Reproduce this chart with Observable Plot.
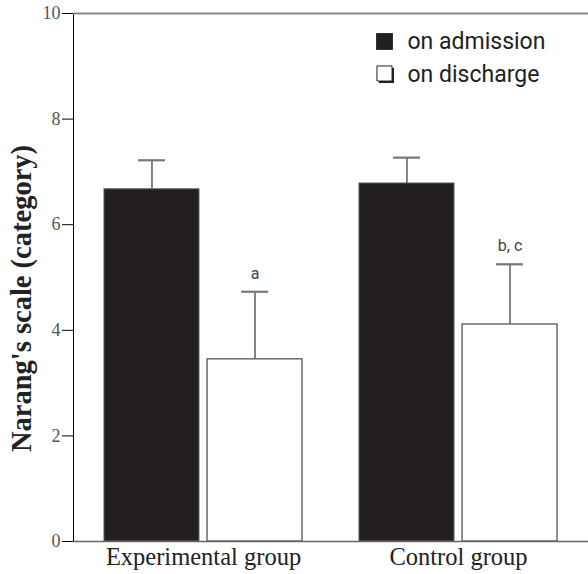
<!DOCTYPE html>
<html>
<head>
<meta charset="utf-8">
<script src="https://cdn.jsdelivr.net/npm/d3@7"></script>
<script src="https://cdn.jsdelivr.net/npm/@observablehq/plot@0.6"></script>
<style>
  html, body { margin: 0; padding: 0; background: #fff; }
  #chart svg { display: block; }
  #chart g[aria-label^="x-axis"] text { font-family: "Liberation Serif", "Times New Roman", serif; font-size: 24.5px; fill: #222; }
  #chart g[aria-label^="y-axis"] text { font-family: "Liberation Serif", "Times New Roman", serif; font-size: 18px; fill: #555; }
</style>
</head>
<body>
<div id="chart"></div>
<script>
// ---- data ----
const groups = ["Experimental group", "Control group"];
const admissionMean = [6.67, 6.78];
const admissionSD = [0.55, 0.49];
const dischargeMean = [3.45, 4.11];
const dischargeSD = [1.28, 1.14];
const sigLabels = ["a", "b, c"];
const yTicks = [0, 2, 4, 6, 8, 10];
const legendLabels = ["on admission", "on discharge"];
const yLabel = "Narang's scale (category)";

const admission = groups.map((g, i) => ({group: g, mean: admissionMean[i], top: admissionMean[i] + admissionSD[i]}));
const discharge = groups.map((g, i) => ({group: g, mean: dischargeMean[i], top: dischargeMean[i] + dischargeSD[i], sig: sigLabels[i]}));

// ---- layout (styles) ----
const W = 588, H = 574;
const mL = 73, mR = 0, mT = 13, mB = 33;
const pInner = 0.225, pOuter = 0.12;
const step = (W - mL - mR) / (groups.length - pInner + 2 * pOuter);
const bw = step * (1 - pInner);
const gap = 8;
const barW = (bw - gap) / 2;
const capW = 27;
const off = bw / 2 - barW / 2; // offset of each bar centre from band centre
const capIn = barW / 2 - capW / 2;

const lineColor = "#666";
const sans = "Roboto, Liberation Sans, sans-serif";

const chart = Plot.plot({
  width: W,
  height: H,
  marginLeft: mL,
  marginRight: mR,
  marginTop: mT,
  marginBottom: mB,
  style: {fontFamily: "Liberation Serif, serif", background: "#fff"},
  x: {domain: groups, paddingInner: pInner, paddingOuter: pOuter, label: null, tickSize: 0, tickPadding: 6},
  y: {domain: [0, 10], ticks: yTicks, tickFormat: d3.format("d"), label: null, tickSize: 11, tickPadding: 2, line: true},
  marks: [
    Plot.ruleY([10], {stroke: "#888", strokeWidth: 2}),
    // error bars (upward only)
    Plot.ruleX(admission, {x: "group", y1: "mean", y2: "top", dx: -off, stroke: lineColor, strokeWidth: 1.6}),
    Plot.tickY(admission, {x: "group", y: "top", insetLeft: capIn, insetRight: bw - barW + capIn, stroke: "#777", strokeWidth: 2.2}),
    Plot.ruleX(discharge, {x: "group", y1: "mean", y2: "top", dx: off, stroke: lineColor, strokeWidth: 1.6}),
    Plot.tickY(discharge, {x: "group", y: "top", insetLeft: bw - barW + capIn, insetRight: capIn, stroke: "#777", strokeWidth: 2.2}),
    // bars
    Plot.barY(admission, {x: "group", y: "mean", insetRight: bw - barW, fill: "#231f20", stroke: "#555", strokeWidth: 1}),
    Plot.barY(discharge, {x: "group", y: "mean", insetLeft: bw - barW, fill: "#fff", stroke: "#555", strokeWidth: 1.3}),
    // significance letters
    Plot.text(discharge, {x: "group", y: "top", text: "sig", dx: off, dy: -13, lineAnchor: "bottom",
      fontFamily: sans, fontSize: 16, fill: "#444"}),
    // x baseline
    Plot.ruleY([0], {stroke: lineColor, strokeWidth: 1.5}),
    // legend
    Plot.dot([0], {frameAnchor: "top-left", dx: 311, dy: 28, symbol: "square", r: 9.5, fill: "#231f20", stroke: null}),
    Plot.dot([0], {frameAnchor: "top-left", dx: 313, dy: 62, symbol: "square", r: 8.5, fill: "#231f20", stroke: null}),
    Plot.dot([0], {frameAnchor: "top-left", dx: 311, dy: 60, symbol: "square", r: 8.5, fill: "#fff", stroke: "#231f20", strokeWidth: 1}),
    Plot.text([legendLabels[0]], {frameAnchor: "top-left", text: d => d, dx: 334, dy: 28,
      fontFamily: sans, fontSize: 23, fill: "#231f20", textAnchor: "start", lineAnchor: "middle"}),
    Plot.text([legendLabels[1]], {frameAnchor: "top-left", text: d => d, dx: 334, dy: 61,
      fontFamily: sans, fontSize: 23, fill: "#231f20", textAnchor: "start", lineAnchor: "middle"}),
    // y-axis title
    Plot.text([yLabel], {frameAnchor: "left", text: d => d, rotate: -90, dx: -52, dy: 21, textAnchor: "middle",
      fontFamily: "Liberation Serif, Times New Roman, serif", fontWeight: "bold", fontSize: 28.5, fill: "#222"})
  ]
});
document.getElementById("chart").appendChild(chart);
</script>
</body>
</html>
